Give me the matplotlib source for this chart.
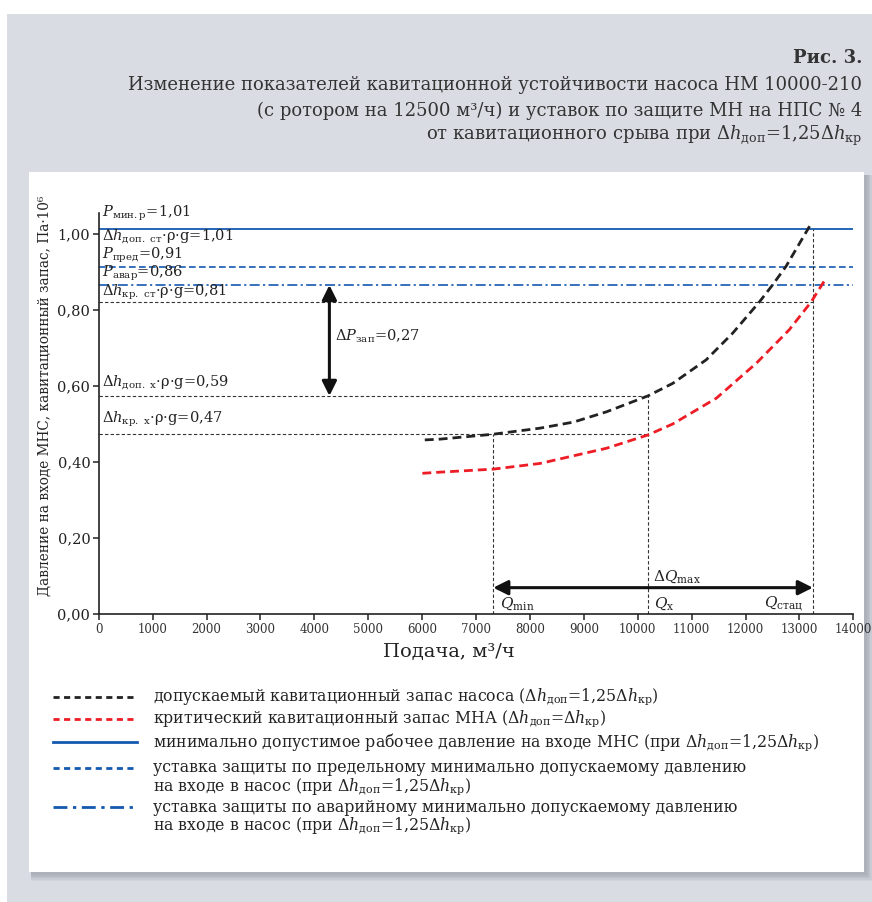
import matplotlib
matplotlib.use("Agg")
import matplotlib.pyplot as plt
from matplotlib.lines import Line2D
from matplotlib.patches import Rectangle
from matplotlib.ticker import FuncFormatter

plt.rcParams['font.family'] = ['DejaVu Serif']
plt.rcParams['mathtext.fontset'] = 'dejavuserif'

# ---------------- data ----------------
q_dop = [6050, 6330, 7320, 8190, 8810, 9420, 10190, 10650, 11270, 11760, 12260, 12500, 12750, 13230]
h_dop = [0.458, 0.460, 0.473, 0.489, 0.505, 0.532, 0.574, 0.607, 0.669, 0.739, 0.822, 0.866, 0.915, 1.031]

q_kr = [6005, 6330, 7320, 8190, 9420, 10190, 10650, 11460, 12200, 12810, 13220, 13480]
h_kr = [0.370, 0.373, 0.381, 0.396, 0.436, 0.471, 0.500, 0.568, 0.660, 0.748, 0.822, 0.881]

p_min_r = 1.015
p_pred = 0.915
p_avar = 0.866
dh_kr_st = 0.822
dh_dop_x = 0.574
dh_kr_x = 0.474

q_min = 7320
q_x = 10190
q_stat = 13250

dp_arrow_q = 4280

x_ticks = list(range(0, 14001, 1000))
y_ticks = [0.0, 0.2, 0.4, 0.6, 0.8, 1.0]

# ---------------- figure ----------------
W, H = 872, 902
fig = plt.figure(figsize=(W / 100, H / 100), dpi=100)
fig.patch.set_facecolor('white')


def fx(px):
    return px / W


def fy(py):
    return 1 - py / H


def frect(x0, y0, x1, y1, **kw):
    r = Rectangle((fx(x0), fy(y1)), fx(x1) - fx(x0), fy(y0) - fy(y1),
                  transform=fig.transFigure, **kw)
    fig.add_artist(r)
    return r


# background
frect(7, 14, 872, 902, facecolor='#d9dce3', edgecolor='none', zorder=-10)
# soft shadow
for i, a in enumerate([0.10, 0.12, 0.14, 0.16, 0.18]):
    d = 9 - i * 1.5
    frect(29 + 2, 172 + 3, 864 + d, 872 + d, facecolor='#8a8e9a', alpha=a,
          edgecolor='none', zorder=-9)
frect(29, 172, 864, 872, facecolor='white', edgecolor='none', zorder=-8)

# title
tcol = '#333333'
fig.text(fx(862), fy(58), 'Рис. 3.', ha='right', va='center', fontsize=13,
         fontweight='bold', color=tcol)
title_lines = [
    'Изменение показателей кавитационной устойчивости насоса НМ 10000-210',
    '(с ротором на 12500 м³/ч) и уставок по защите МН на НПС № 4',
    r'от кавитационного срыва при $\Delta h_{\mathrm{доп}}$=1,25$\Delta h_{\mathrm{кр}}$',
]
for i, t in enumerate(title_lines):
    fig.text(fx(862), fy(85 + i * 25.5), t, ha='right', va='center', fontsize=13,
             color=tcol)

# axes
ax = fig.add_axes([fx(98.7), fy(613.7), fx(853.3) - fx(98.7), fy(213) - fy(613.7)])
ax.set_facecolor('none')
ax.set_xlim(0, 14000)
ax.set_ylim(0, 1.056)
for s in ['top', 'right']:
    ax.spines[s].set_visible(False)
for s in ['left', 'bottom']:
    ax.spines[s].set_linewidth(1.2)
    ax.spines[s].set_color('#222222')
ax.set_xticks(x_ticks)
ax.set_yticks(y_ticks)
ax.xaxis.set_major_formatter(FuncFormatter(lambda v, p: f'{int(v)}'))
ax.yaxis.set_major_formatter(FuncFormatter(lambda v, p: f'{v:.2f}'.replace('.', ',')))
ax.tick_params(axis='x', labelsize=8.5, length=4, width=1.1, color='#222222',
               labelcolor='#333333', pad=3)
ax.tick_params(axis='y', labelsize=10.5, length=4, width=1.1, color='#222222',
               labelcolor='#222222', pad=2)

blue = '#1459b0'
red = '#ee1c25'
blk = '#222222'

# horizontal level lines
ax.axhline(p_min_r, color=blue, lw=1.3)
ax.axhline(p_pred, color=blue, lw=1.2, dashes=(4, 2))
ax.axhline(p_avar, color=blue, lw=1.2, dashes=(6, 2, 1.3, 2))

thin = dict(color='#333333', lw=0.8, dashes=(3, 2))
ax.plot([0, q_stat], [dh_kr_st, dh_kr_st], **thin)
ax.plot([0, q_x], [dh_dop_x, dh_dop_x], **thin)
ax.plot([0, q_x], [dh_kr_x, dh_kr_x], **thin)
ax.plot([q_min, q_min], [0, dh_kr_x], **thin)
ax.plot([q_x, q_x], [0, dh_dop_x], **thin)
ax.plot([q_stat, q_stat], [0, p_min_r], **thin)

# curves
ax.plot(q_dop, h_dop, color=blk, lw=2.0, dashes=(3.2, 1.8), dash_capstyle='butt',
        dash_joinstyle='round', clip_on=False)
ax.plot(q_kr, h_kr, color=red, lw=2.0, dashes=(3.2, 1.8), dash_capstyle='butt',
        dash_joinstyle='round', clip_on=False)

# arrows
arrow_kw = dict(arrowstyle='<|-|>', mutation_scale=22, lw=2.2, color='#111111',
                shrinkA=0, shrinkB=0)
ax.annotate('', xy=(dp_arrow_q, dh_dop_x), xytext=(dp_arrow_q, p_avar),
            arrowprops=arrow_kw)
ax.annotate('', xy=(q_min, 0.0686), xytext=(q_stat, 0.0686), arrowprops=arrow_kw)

# annotations
fs = 10.5
tc = '#222222'
ax.text(55, 1.056, r'$P_{\mathrm{мин.р}}$=1,01', fontsize=fs, va='center', color=tc, clip_on=False)
ax.text(55, 0.994, r'$\Delta h_{\mathrm{доп.\ ст}}$·ρ·g=1,01', fontsize=fs, va='center', color=tc)
ax.text(55, 0.945, r'$P_{\mathrm{пред}}$=0,91', fontsize=fs, va='center', color=tc)
ax.text(55, 0.896, r'$P_{\mathrm{авар}}$=0,86', fontsize=fs, va='center', color=tc)
ax.text(55, 0.848, r'$\Delta h_{\mathrm{кр.\ ст}}$·ρ·g=0,81', fontsize=fs, va='center', color=tc)
ax.text(55, 0.611, r'$\Delta h_{\mathrm{доп.\ х}}$·ρ·g=0,59', fontsize=fs, va='center', color=tc)
ax.text(55, 0.513, r'$\Delta h_{\mathrm{кр.\ х}}$·ρ·g=0,47', fontsize=fs, va='center', color=tc)
ax.text(4380, 0.730, r'$\Delta P_{\mathrm{зап}}$=0,27', fontsize=fs, va='center', color=tc)
ax.text(10280, 0.0975, r'$\Delta Q_{\mathrm{max}}$', fontsize=fs + 0.5, va='center', color=tc)
ax.text(7440, 0.027, r'$Q_{\mathrm{min}}$', fontsize=fs + 0.5, va='center', color=tc)
ax.text(10300, 0.027, r'$Q_{\mathrm{x}}$', fontsize=fs + 0.5, va='center', color=tc)
ax.text(12340, 0.027, r'$Q_{\mathrm{стац}}$', fontsize=fs + 0.5, va='center', color=tc)

# axis labels
fig.text(fx(45), fy(396), 'Давление на входе МНС, кавитационный запас, Па·10⁶',
         rotation=90, ha='center', va='center', fontsize=9.8, color=tc)
fig.text(fx(449), fy(652), 'Подача, м³/ч', ha='center', va='center', fontsize=14,
         color=tc)

# legend (manual)
leg_entries = [
    (dict(color=blk, lw=2.0, dashes=(2.2, 1.6)), 697,
     [r'допускаемый кавитационный запас насоса ($\Delta h_{\mathrm{доп}}$=1,25$\Delta h_{\mathrm{кр}}$)']),
    (dict(color=red, lw=2.0, dashes=(2.2, 1.6)), 719,
     [r'критический кавитационный запас МНА ($\Delta h_{\mathrm{доп}}$=$\Delta h_{\mathrm{кр}}$)']),
    (dict(color=blue, lw=2.0), 742,
     [r'минимально допустимое рабочее давление на входе МНС (при $\Delta h_{\mathrm{доп}}$=1,25$\Delta h_{\mathrm{кр}}$)']),
    (dict(color=blue, lw=2.0, dashes=(2.2, 1.6)), 768,
     ['уставка защиты по предельному минимально допускаемому давлению',
      r'на входе в насос (при $\Delta h_{\mathrm{доп}}$=1,25$\Delta h_{\mathrm{кр}}$)']),
    (dict(color=blue, lw=2.0, dashes=(5, 2, 1.2, 2)), 807,
     ['уставка защиты по аварийному минимально допускаемому давлению',
      r'на входе в насос (при $\Delta h_{\mathrm{доп}}$=1,25$\Delta h_{\mathrm{кр}}$)']),
]
for style, ypx, lines in leg_entries:
    fig.add_artist(Line2D([fx(53), fx(137)], [fy(ypx), fy(ypx)],
                          transform=fig.transFigure, **style))
    for j, t in enumerate(lines):
        fig.text(fx(153), fy(ypx + j * 18.5), t, ha='left', va='center',
                 fontsize=11.3, color=tc)

fig.savefig('out.png', dpi=100, facecolor=fig.get_facecolor())
